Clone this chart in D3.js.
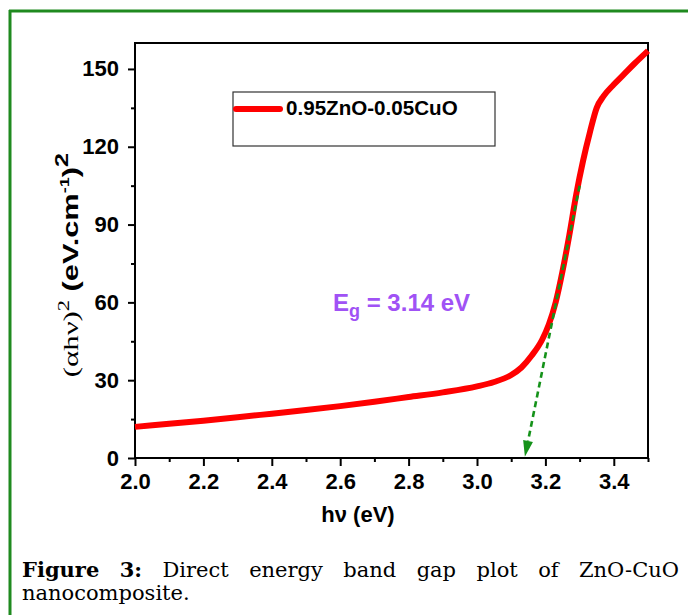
<!DOCTYPE html>
<html>
<head>
<meta charset="utf-8">
<script src="https://cdn.jsdelivr.net/npm/d3@7"></script>
<style>
  body { margin: 0; background: #ffffff; }
  svg { display: block; }
</style>
</head>
<body>
<script>
// values
var hv = [2.0, 2.1, 2.2, 2.3, 2.4, 2.5, 2.6, 2.7, 2.8, 2.9, 3.0, 3.05, 3.1, 3.13, 3.16, 3.19,
	3.21, 3.23, 3.25, 3.27, 3.29, 3.31, 3.33, 3.35, 3.37, 3.40, 3.43, 3.46, 3.50];
var ahv2 = [12.0, 13.2, 14.4, 15.7, 17.1, 18.5, 20.0, 21.7, 23.5, 25.3, 27.6, 29.3, 32.0, 34.9, 39.5, 45.5,
	51.5, 60.0, 72.0, 86.0, 101.5, 114.5, 125.5, 135.0, 139.5, 144.0, 148.0, 152.0, 157.0];

// tangent (extrapolation to the gap)
var tangentX = [3.30, 3.14];
var tangentY = [105, 0.5];

var xTicks = [2.0, 2.2, 2.4, 2.6, 2.8, 3.0, 3.2, 3.4];
var xMinor = [2.1, 2.3, 2.5, 2.7, 2.9, 3.1, 3.3, 3.5];
var yTicks = [0, 30, 60, 90, 120, 150];
var yMinor = [15, 45, 75, 105, 135];

var seriesName = "0.95ZnO-0.05CuO";
var captionLine1 = ["Figure", "3:", "Direct", "energy", "band", "gap", "plot", "of", "ZnO-CuO"];
var captionLine2 = "nanocomposite.";

var green_col = "#1f8a1f";
var line_col = "#ff0000";
var tangent_col = "#15921a";
var eg_col = "#a052f5";
var sans = "'Liberation Sans', Arial, sans-serif";
var serif = "'Liberation Serif', 'Times New Roman', serif";

var W = 688, H = 615;
var margin = { top: 43, left: 135 },
	width = 513,
	height = 415;

var svg = d3.select("body").append("svg")
	.attr("width", W)
	.attr("height", H);

// green page frame (top + left)
svg.append("line")
	.attr("x1", 9).attr("x2", W).attr("y1", 11).attr("y2", 11)
	.style("stroke", green_col).style("stroke-width", 3);
svg.append("line")
	.attr("x1", 10).attr("x2", 10).attr("y1", 10).attr("y2", H)
	.style("stroke", green_col).style("stroke-width", 3);

var g = svg.append("g")
	.attr("transform", "translate(" + margin.left + "," + margin.top + ")");

var x = d3.scaleLinear().domain([2.0, 3.5]).range([0, width]);
var y = d3.scaleLinear().domain([0, 160]).range([height, 0]);

// axes
var xAxis = g.append("g")
	.attr("transform", "translate(0," + height + ")")
	.call(d3.axisBottom(x).tickValues(xTicks).tickFormat(d3.format(".1f")).tickSize(8).tickPadding(7));
var xMin = g.append("g")
	.attr("transform", "translate(0," + height + ")")
	.call(d3.axisBottom(x).tickValues(xMinor).tickFormat("").tickSize(4));

var yAxis = g.append("g")
	.call(d3.axisLeft(y).tickValues(yTicks).tickSize(7).tickPadding(9));
var yMin = g.append("g")
	.call(d3.axisLeft(y).tickValues(yMinor).tickFormat("").tickSize(4));

[xAxis, xMin, yAxis, yMin].forEach(function (a) {
	a.select(".domain").remove();
	a.selectAll(".tick line").style("stroke", "#000").style("stroke-width", 2);
	a.selectAll("text")
		.style("font-family", sans)
		.style("font-weight", "bold")
		.style("font-size", "22px")
		.style("fill", "#000");
});

// plot frame
g.append("rect")
	.attr("x", 0).attr("y", 0)
	.attr("width", width).attr("height", height)
	.style("fill", "none")
	.style("stroke", "#000")
	.style("stroke-width", 2);

// data line
var pts = hv.map(function (d, i) { return [d, ahv2[i]]; });
var line = d3.line()
	.x(function (d) { return x(d[0]); })
	.y(function (d) { return y(d[1]); })
	.curve(d3.curveMonotoneX);

g.append("path")
	.datum(pts)
	.attr("d", line)
	.style("fill", "none")
	.style("stroke", line_col)
	.style("stroke-width", 6)
	.style("stroke-linejoin", "round");

// tangent with arrow head
var tx0 = x(tangentX[0]), ty0 = y(tangentY[0]);
var tx1 = x(tangentX[1]), ty1 = y(tangentY[1]);
var ang = Math.atan2(ty1 - ty0, tx1 - tx0);
var headLen = 16, headW = 5;
var bx = tx1 - headLen * Math.cos(ang), by = ty1 - headLen * Math.sin(ang);

g.append("line")
	.attr("x1", tx0).attr("y1", ty0)
	.attr("x2", bx).attr("y2", by)
	.style("stroke", tangent_col)
	.style("stroke-width", 2.6)
	.style("stroke-dasharray", "6,4");

g.append("path")
	.attr("d", "M" + tx1 + "," + ty1 +
		"L" + (bx + headW * Math.sin(ang)) + "," + (by - headW * Math.cos(ang)) +
		"L" + (bx - headW * Math.sin(ang)) + "," + (by + headW * Math.cos(ang)) + "Z")
	.style("fill", tangent_col);

// Eg label
var eg = g.append("text")
	.attr("x", 333 - margin.left)
	.attr("y", 311 - margin.top)
	.style("font-family", sans)
	.style("font-weight", "bold")
	.style("font-size", "24px")
	.style("fill", eg_col);
eg.append("tspan").text("E");
eg.append("tspan").attr("dy", 6).style("font-size", "18px").text("g");
eg.append("tspan").attr("dy", -6).text(" = 3.14 eV");

// legend
var lg = g.append("g").attr("transform", "translate(" + (233 - margin.left) + "," + (92 - margin.top) + ")");
lg.append("rect")
	.attr("width", 262).attr("height", 54)
	.style("fill", "#fff")
	.style("stroke", "#333")
	.style("stroke-width", 1.2);
lg.append("line")
	.attr("x1", 3).attr("x2", 47).attr("y1", 17).attr("y2", 17)
	.style("stroke", line_col)
	.style("stroke-width", 6)
	.style("stroke-linecap", "round");
lg.append("text")
	.attr("x", 53).attr("y", 23)
	.style("font-family", sans)
	.style("font-weight", "bold")
	.style("font-size", "20.6px")
	.text(seriesName);

// x label
svg.append("text")
	.attr("x", 358).attr("y", 522)
	.attr("text-anchor", "middle")
	.style("font-family", sans)
	.style("font-weight", "bold")
	.style("font-size", "22px")
	.text("h\u03bd (eV)");

// y label (stretched along its length like the original)
var yl = svg.append("text")
	.attr("transform", "translate(78,265) rotate(-90) scale(1.4,1)")
	.attr("text-anchor", "middle")
	.style("font-size", "22px");
yl.append("tspan").style("font-family", serif).text("(\u03b1h\u03bd)");
yl.append("tspan").attr("dy", -9).style("font-family", serif).style("font-size", "16px").text("2");
yl.append("tspan").attr("dy", 9).style("font-family", sans).style("font-weight", "bold").text(" (eV.cm");
yl.append("tspan").attr("dy", -9).style("font-family", sans).style("font-weight", "bold").style("font-size", "13px").text("-1");
yl.append("tspan").attr("dy", 9).style("font-family", sans).style("font-weight", "bold").text(")");
yl.append("tspan").attr("dy", -10).style("font-family", sans).style("font-weight", "bold").style("font-size", "18px").text("2");

// caption, first line justified
var capFont = "'DejaVu Serif', serif";
var capLeft = 22, capRight = 679;
var cap1 = svg.append("g");
var words = cap1.selectAll("text")
	.data(captionLine1)
	.enter().append("text")
	.attr("y", 577)
	.style("font-family", capFont)
	.style("font-size", "21px")
	.style("font-weight", function (d, i) { return i < 2 ? "bold" : "normal"; })
	.text(function (d) { return d; });

var widths = [];
words.each(function () { widths.push(this.getComputedTextLength()); });
var gap = (capRight - capLeft - d3.sum(widths)) / (widths.length - 1);
var cx = capLeft;
words.attr("x", function (d, i) {
	var v = cx;
	cx += widths[i] + gap;
	return v;
});

svg.append("text")
	.attr("x", capLeft).attr("y", 600)
	.style("font-family", capFont)
	.style("font-size", "21px")
	.text(captionLine2);
</script>
</body>
</html>
